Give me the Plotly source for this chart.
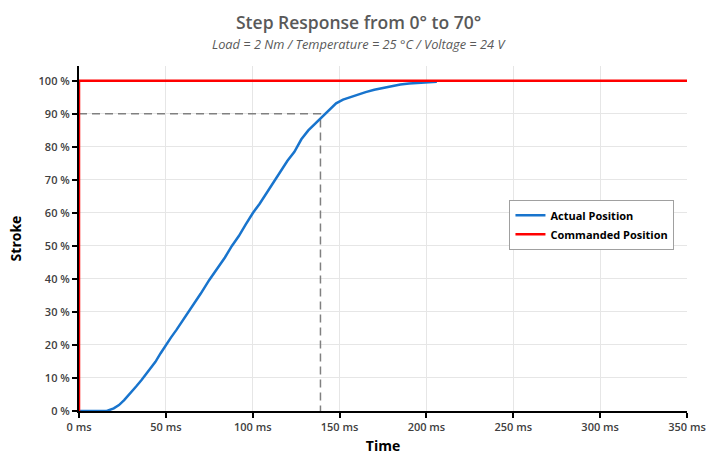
import plotly.graph_objects as go

# Actual position
time_ms = [0, 5, 10, 16, 20, 23, 26, 29, 33, 36, 40, 44, 47, 50, 53, 56, 59, 62, 66, 70,
           75, 80, 84, 88, 92, 96, 100, 104, 108, 112, 116, 120, 124, 128, 132, 136, 140,
           144, 148, 152, 156, 160, 165, 170, 175, 180, 185, 190, 195, 200, 206]
stroke_pct = [0, 0, 0, 0, 0.8, 1.8, 3.3, 5.0, 7.5, 9.4, 12.0, 14.9, 17.5, 20.0, 22.3, 24.5,
              26.8, 29.2, 32.5, 35.5, 39.7, 43.5, 46.5, 50.0, 53.0, 56.5, 59.9, 62.8, 66.0,
              69.0, 72.6, 75.8, 78.5, 82.3, 85.0, 87.0, 89.2, 91.3, 93.2, 94.3, 95.0, 95.8,
              96.6, 97.3, 97.9, 98.5, 98.9, 99.2, 99.4, 99.5, 99.7]

# Commanded position (step)
cmd_time = [0, 0, 350]
cmd_pct = [0, 100, 100]

# 90 % marker
t90 = 139
level90 = 90

x_ticks = [0, 50, 100, 150, 200, 250, 300, 350]
y_ticks = [0, 10, 20, 30, 40, 50, 60, 70, 80, 90, 100]

title_text = "Step Response from 0° to 70°"
subtitle_text = "Load = 2 Nm / Temperature = 25 °C / Voltage = 24 V"

fig = go.Figure()
fig.add_trace(go.Scatter(x=[0, t90, t90], y=[level90, level90, 0], mode="lines",
                         line=dict(color="#808080", width=1.5, dash="8px,5px"),
                         showlegend=False, hoverinfo="skip"))
fig.add_trace(go.Scatter(x=time_ms, y=stroke_pct, mode="lines", name="Actual Position",
                         line=dict(color="#1874CD", width=2.5)))
fig.add_trace(go.Scatter(x=cmd_time, y=cmd_pct, mode="lines", name="Commanded Position",
                         line=dict(color="#FF0000", width=2.5)))

tickfont = dict(family="Open Sans", size=11, color="#404040", weight=600)
fig.update_layout(
    width=719, height=455,
    margin=dict(l=79, r=32, t=66, b=44, autoexpand=False),
    paper_bgcolor="white", plot_bgcolor="white",
    annotations=[
        dict(text=title_text, xref="paper", yref="paper", x=0.46, y=1.1275,
             xanchor="center", yanchor="middle", showarrow=False,
             font=dict(family="Open Sans", size=17.5, color="#595959", weight=600)),
        dict(text="<i>" + subtitle_text + "</i>", xref="paper", yref="paper", x=0.46, y=1.064,
             xanchor="center", yanchor="middle", showarrow=False,
             font=dict(family="Open Sans", size=12.8, color="#595959")),
    ],
    legend=dict(x=0.708, y=0.612, xanchor="left", yanchor="top",
                bgcolor="white", bordercolor="#A0A0A0", borderwidth=1,
                font=dict(family="Open Sans", size=11, color="#000000", weight="bold"),
                itemwidth=30, tracegroupgap=4),
    showlegend=True,
)
fig.update_xaxes(range=[0, 350], tickvals=x_ticks, ticktext=[f"{v} ms" for v in x_ticks],
                 showgrid=True, gridcolor="#E6E6E6", gridwidth=1,
                 showline=True, linecolor="#000000", linewidth=2,
                 ticks="outside", ticklen=5, tickwidth=2, tickcolor="#000000",
                 tickfont=tickfont, zeroline=False, automargin=False,
                 title=dict(text="Time", font=dict(family="Open Sans", size=14, color="#000000", weight="bold"), standoff=14))
fig.update_yaxes(range=[0, 104.5], tickvals=y_ticks, ticktext=[f"{v} %" for v in y_ticks],
                 showgrid=True, gridcolor="#E6E6E6", gridwidth=1,
                 showline=True, linecolor="#000000", linewidth=2,
                 ticks="outside", ticklen=5, tickwidth=2, tickcolor="#000000",
                 tickfont=tickfont, zeroline=False, automargin=False,
                 title=dict(text="Stroke", font=dict(family="Open Sans", size=14, color="#000000", weight="bold"), standoff=14))

fig.write_html("out.html", config={"displayModeBar": False},
               post_script="document.body.style.margin='0';document.body.style.overflow='hidden';")
